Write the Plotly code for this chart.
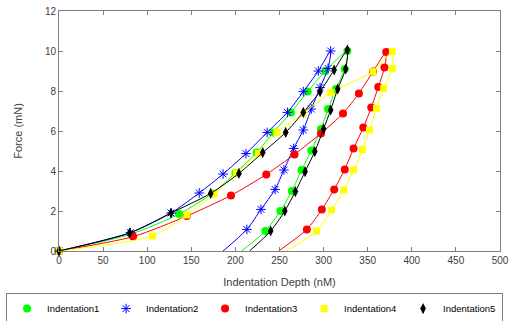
import plotly.graph_objects as go

# Indentation1 (green circles)
x1 = [0, 82, 136, 174, 200, 224, 243, 263, 282, 302, 327, 324, 314, 305, 297, 286, 275, 264, 251, 234, 207]
y1 = [0, 0.85, 1.85, 2.88, 3.9, 4.92, 5.93, 6.93, 7.97, 9.0, 10.0, 9.1, 8.1, 7.1, 6.1, 5.02, 4.05, 3.0, 2.0, 1.0, 0]
# Indentation2 (blue asterisks)
x2 = [0, 81, 127, 159, 186, 212, 236, 259, 277, 294, 308, 305, 296, 286, 277, 266, 255, 245, 229, 213, 186]
y2 = [0, 0.92, 1.9, 2.9, 3.85, 4.87, 5.93, 6.93, 7.97, 9.0, 10.0, 9.13, 8.17, 7.1, 6.05, 5.13, 4.05, 3.08, 2.08, 1.08, 0]
# Indentation3 (red circles)
x3 = [0, 84, 145, 195, 235, 267, 297, 322, 340, 356, 371, 369, 362, 354, 345, 334, 324, 312, 298, 281, 249]
y3 = [0, 0.72, 1.75, 2.78, 3.83, 4.83, 5.88, 6.88, 7.88, 8.97, 9.95, 9.17, 8.2, 7.17, 6.17, 5.13, 4.08, 3.08, 2.08, 1.08, 0]
# Indentation4 (yellow squares)
x4 = [0, 106, 145, 176, 201, 226, 247, 277, 308, 356, 378, 378, 368, 360, 352, 344, 334, 323, 309, 292, 258]
y4 = [0, 0.75, 1.8, 2.85, 3.9, 4.88, 5.93, 6.88, 7.93, 8.97, 9.97, 9.13, 8.13, 7.13, 6.05, 5.08, 4.05, 3.05, 2.05, 1.0, 0]
# Indentation5 (black diamonds)
x5 = [0, 80, 127, 172, 204, 231, 257, 277, 296, 312, 327, 325, 316, 308, 300, 290, 279, 268, 256, 240, 216]
y5 = [0, 0.9, 1.9, 2.88, 3.88, 4.92, 5.93, 6.93, 7.97, 9.05, 10.05, 9.1, 8.1, 7.05, 6.1, 4.97, 3.97, 2.97, 2.0, 1.0, 0]

names = ["Indentation1", "Indentation2", "Indentation3", "Indentation4", "Indentation5"]
xtick_vals = list(range(0, 501, 50))
ytick_vals = list(range(0, 13, 2))

series = [
    (x1, y1, "#00ff00", "circle", 8, {}),
    (x2, y2, "#0000ff", "asterisk-open", 8, {"line": {"color": "#0000ff", "width": 1}}),
    (x3, y3, "#ff0000", "circle", 8, {}),
    (x4, y4, "#ffff00", "square", 7, {}),
    (x5, y5, "#000000", "diamond-tall", 8, {}),
]

fig = go.Figure()
for (xs, ys, col, sym, size, extra), name in zip(series, names):
    fig.add_trace(go.Scatter(
        x=xs, y=ys, mode="lines", line=dict(color=col, width=1, shape="spline", smoothing=0.7),
        showlegend=False, hoverinfo="skip"))
    mk = dict(color=col, symbol=sym, size=size)
    if "line" in extra:
        mk["line"] = extra["line"]
    else:
        mk["line"] = dict(width=0)
    fig.add_trace(go.Scatter(
        x=xs[:-1], y=ys[:-1], mode="markers", marker=mk, name=name, cliponaxis=False))

axis_common = dict(
    showline=True, mirror="allticks", linecolor="#7f7f7f", linewidth=1,
    ticks="inside", ticklen=4, tickcolor="#7f7f7f", tickwidth=1,
    showgrid=False, zeroline=False, automargin=False,
    tickfont=dict(family="Liberation Sans, Arial", size=10, color="#404040"),
)

fig.update_layout(
    width=510, height=321,
    margin=dict(l=59, r=10, t=11, b=70, autoexpand=False),
    paper_bgcolor="white", plot_bgcolor="white",
    font=dict(family="Liberation Sans, Arial", size=10, color="#404040"),
    xaxis=dict(range=[0, 500], tickvals=xtick_vals, **axis_common,
               title=dict(text="Indentation Depth (nM)", font=dict(size=11, color="#404040"), standoff=13)),
    yaxis=dict(range=[0, 12], tickvals=ytick_vals, **axis_common,
               title=dict(text="Force (mN)", font=dict(size=11, color="#404040"), standoff=20)),
    legend=dict(orientation="h", xref="paper", yref="paper", x=-0.12, xanchor="left",
                y=-0.24, yanchor="middle", bordercolor="#7f7f7f", borderwidth=1, bgcolor="white",
                entrywidth=54, entrywidthmode="pixels",
                font=dict(family="Liberation Sans, Arial", size=9.5, color="#000000")),
)

fig.write_html("out.html", config={"displayModeBar": False},
               post_script="document.body.style.margin='0';document.body.style.padding='0';")
